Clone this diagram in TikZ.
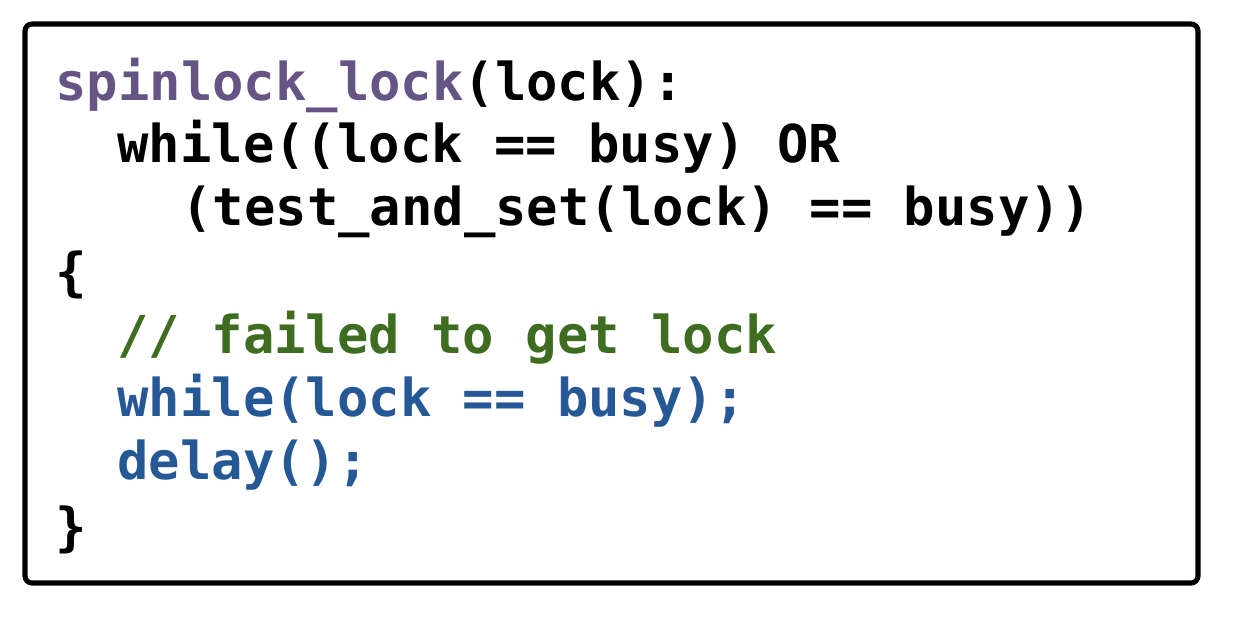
\documentclass[tikz,border=0pt]{standalone}
\usepackage{fontspec}
\setmonofont{DejaVu Sans Mono}
\usetikzlibrary{positioning}
\definecolor{fnpurple}{RGB}{102,84,132}
\definecolor{cmtgreen}{RGB}{62,108,32}
\definecolor{bodyblue}{RGB}{38,88,150}

\begin{document}
\begin{tikzpicture}[x=0.02cm, y=-0.02cm,
    code/.style={anchor=base west, inner sep=0pt, font=\ttfamily\bfseries\fontsize{29.7pt}{36pt}\selectfont},
    frame/.style={draw=black, line width=2.9pt, rounded corners=4pt}]
  \useasboundingbox (0,0) rectangle (1258,616);
  % outer frame
  \draw[frame] (25,24) rectangle (1198,583);

  % header and condition
  \node[code] (sig)  at (55,100)  {\textcolor{fnpurple}{spinlock\_lock}(lock):};
  \node[code] (cond) at (117,162) {while((lock == busy) OR};
  \node[code] (tas)  at (181,225) {(test\_and\_set(lock) == busy))};

  % loop body
  \node[code] (open)  at (55,290)  {\{};
  \node[code, text=cmtgreen] (cmt) at (117,353) {// failed to get lock};
  \node[code, text=bodyblue] (spin) at (117,416) {while(lock == busy);};
  \node[code, text=bodyblue] (dly)  at (117,479) {delay();};
  \node[code] (close) at (55,545)  {\}};
\end{tikzpicture}
\end{document}
